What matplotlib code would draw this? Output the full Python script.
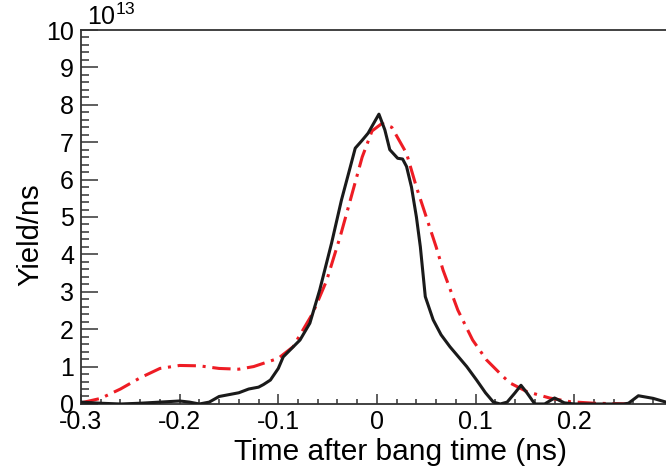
import matplotlib
matplotlib.use('Agg')
import matplotlib.pyplot as plt
from matplotlib.ticker import MultipleLocator

plt.rcParams['font.family'] = ['Liberation Sans', 'DejaVu Sans']
plt.rcParams['mathtext.fontset'] = 'custom'
plt.rcParams['mathtext.rm'] = 'Liberation Sans'

# measured yield (black) and fit (red), yield in units of 1e13 /ns
t_meas = [-0.3, -0.28, -0.26, -0.24, -0.22, -0.2, -0.19, -0.18, -0.17, -0.16,
          -0.15, -0.14, -0.13, -0.12, -0.115, -0.108, -0.1, -0.095, -0.078, -0.068,
          -0.058, -0.046, -0.036, -0.027, -0.022, -0.015, -0.009, 0.002, 0.008, 0.013,
          0.021, 0.026, 0.03, 0.035, 0.04, 0.044, 0.049, 0.057, 0.065, 0.074,
          0.091, 0.101, 0.11, 0.118, 0.125, 0.132, 0.14, 0.146, 0.152, 0.16,
          0.17, 0.18, 0.19, 0.2, 0.25, 0.255, 0.265, 0.28, 0.293]
y_meas = [0.05, 0.02, 0.0, 0.02, 0.05, 0.08, 0.05, 0.0, 0.05, 0.2,
          0.25, 0.3, 0.4, 0.45, 0.52, 0.64, 0.95, 1.26, 1.71, 2.16,
          3.05, 4.3, 5.45, 6.34, 6.84, 7.05, 7.24, 7.75, 7.33, 6.8,
          6.57, 6.55, 6.35, 5.8, 5.0, 4.2, 2.87, 2.25, 1.85, 1.53,
          1.0, 0.64, 0.3, 0.05, 0.0, 0.05, 0.3, 0.5, 0.3, 0.0,
          0.0, 0.16, 0.03, 0.0, 0.0, 0.02, 0.22, 0.15, 0.05]

t_fit = [-0.3, -0.28, -0.26, -0.24, -0.22, -0.2, -0.18, -0.16, -0.14, -0.125,
         -0.1, -0.085, -0.065, -0.051, -0.037, -0.027, -0.015, -0.005, 0.005, 0.015,
         0.03, 0.04, 0.05, 0.06, 0.067, 0.082, 0.097, 0.111, 0.128, 0.135,
         0.152, 0.175, 0.196, 0.22, 0.258]
y_fit = [0.03, 0.15, 0.4, 0.7, 0.95, 1.03, 1.02, 0.95, 0.93, 1.0,
         1.22, 1.53, 2.43, 3.3, 4.5, 5.45, 6.6, 7.3, 7.5, 7.4,
         6.7, 5.8, 5.0, 4.2, 3.58, 2.51, 1.71, 1.18, 0.73, 0.56,
         0.33, 0.16, 0.06, 0.02, 0.0]

xtick_vals = [-0.3, -0.2, -0.1, 0, 0.1, 0.2]
xtick_labels = ['-0.3', '-0.2', '-0.1', '0', '0.1', '0.2']
ytick_vals = list(range(0, 11))

fig = plt.figure(figsize=(6.66, 4.71), dpi=100)
ax = fig.add_axes([0.1216, 0.1423, 0.8784, 0.794])

ax.plot(t_meas, y_meas, color='#1a1a1a', linewidth=2.2, zorder=3)
ax.plot(t_fit, y_fit, color='#ee1c24', linewidth=2.2, dashes=(6, 2.2, 1, 2.2), zorder=2)

ax.set_xlim(-0.3, 0.293)
ax.set_ylim(0, 10)
ax.xaxis.set_minor_locator(MultipleLocator(0.02))
ax.yaxis.set_minor_locator(MultipleLocator(0.2))
ax.set_xticks(xtick_vals)
ax.set_xticklabels(xtick_labels, fontsize=18)
ax.set_yticks(ytick_vals)
ax.set_yticklabels([str(v) for v in ytick_vals], fontsize=18)

ax.tick_params(which='both', direction='in', width=1.1, top=False, right=False,
               colors='#333333', labelcolor='black')
ax.tick_params(axis='y', which='major', length=12, pad=5)
ax.tick_params(axis='y', which='minor', length=6)
ax.tick_params(axis='x', which='major', length=7, pad=4)
ax.tick_params(axis='x', which='minor', length=3.5)
ax.spines['right'].set_visible(False)
for s in ['left', 'bottom', 'top']:
    ax.spines[s].set_linewidth(1.3)
    ax.spines[s].set_color('#333333')

fig.text(400 / 666, 1 - 452 / 471, 'Time after bang time (ns)', fontsize=21.5,
         ha='center', va='center')
fig.text(30 / 666, 1 - 235 / 471, 'Yield/ns', fontsize=21, rotation=90,
         ha='center', va='center')
ax.text(0.01, 1.0, r'10$^{13}$', transform=ax.transAxes, fontsize=18,
        ha='left', va='bottom')

fig.savefig('out.png', dpi=100)
